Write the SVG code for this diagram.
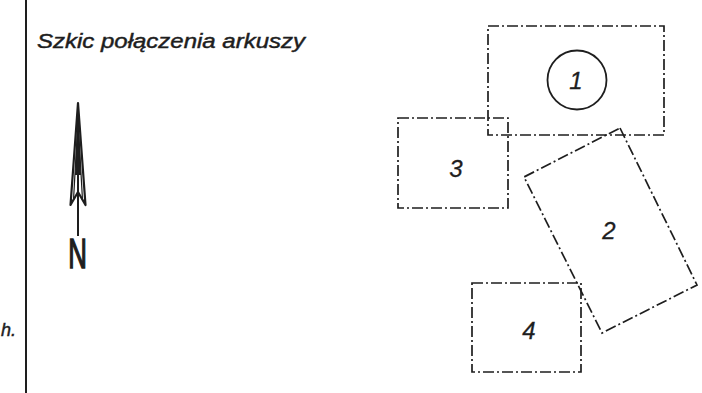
<svg xmlns="http://www.w3.org/2000/svg" width="702" height="393" viewBox="0 0 702 393">
<style>
.sheet{fill:none;stroke:#1e1e1e;stroke-width:1.7;stroke-dasharray:11 3 2 3}
.lbl{font-family:"Liberation Sans",Arial,sans-serif;font-style:italic;fill:#1e1e1e;stroke:#1e1e1e;stroke-width:0.3;text-anchor:middle}
.ttl{font-family:"Liberation Sans",Arial,sans-serif;font-style:italic;fill:#1e1e1e;stroke:#1e1e1e;stroke-width:0.45}
</style>
<rect width="702" height="393" fill="#fff"/>
<line x1="26" y1="0" x2="26" y2="393" stroke="#1e1e1e" stroke-width="2"/>
<text class="ttl" x="37" y="48" font-size="20.5" textLength="268" lengthAdjust="spacingAndGlyphs">Szkic połączenia arkuszy</text>
<text class="ttl" x="1" y="336" font-size="18">h.</text>
<g id="north-arrow">
<line x1="78" y1="103" x2="78" y2="236" stroke="#1e1e1e" stroke-width="2"/>
<path d="M78,103 L75,175 L81,175 Z" fill="#1e1e1e"/>
<path d="M78,103 L70.5,205 L78,192 L85.5,205 Z" fill="none" stroke="#1e1e1e" stroke-width="2.2" stroke-linejoin="round"/>
<path d="M78,120 L73.5,200 M78,120 L82.5,200" fill="none" stroke="#1e1e1e" stroke-width="1.2"/>
<text transform="translate(77.5,268) scale(0.6,1)" font-family="Liberation Sans,Arial,sans-serif" font-size="43" fill="#1e1e1e" stroke="#1e1e1e" stroke-width="1.6" text-anchor="middle">N</text>
</g>
<g id="sheet-1">
<rect class="sheet" x="488" y="26" width="176" height="109"/>
<circle cx="577" cy="80" r="29.5" fill="none" stroke="#1e1e1e" stroke-width="1.8"/>
<text class="lbl" x="576" y="89" font-size="24">1</text>
</g>
<g id="sheet-3">
<rect class="sheet" x="398" y="118" width="110" height="90"/>
<text class="lbl" x="456" y="177" font-size="24">3</text>
</g>
<g id="sheet-2">
<polygon class="sheet" points="620,128 697,285 602,333 524,177"/>
<text class="lbl" x="609" y="239" font-size="24">2</text>
</g>
<g id="sheet-4">
<rect class="sheet" x="472" y="283" width="109" height="89"/>
<text class="lbl" x="529" y="339" font-size="24">4</text>
</g>
</svg>
